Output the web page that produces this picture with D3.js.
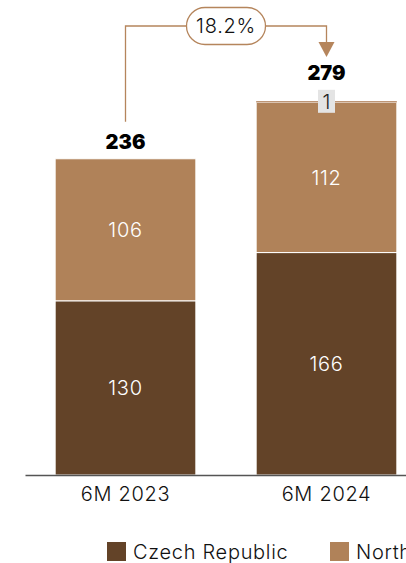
<!DOCTYPE html>
<html><head><meta charset="utf-8">
<script src="https://cdn.jsdelivr.net/npm/d3@7"></script>
<style>
html,body{margin:0;padding:0;background:#fff;overflow:hidden;}
text{font-family:"Inter","Lato",sans-serif;}
</style></head>
<body>
<svg id="chart" width="406" height="563"></svg>
<script>
const categories = ["6M 2023", "6M 2024"];
const seriesNames = ["Czech Republic", "North Macedonia", "Other"];
const czechValues = [130, 166];
const northValues = [106, 112];
const otherValues = [0, 1];
const totals = [236, 279];
const growthLabel = "18.2%";
const colors = ["#634328", "#b08259", "#b38560"];

const svg = d3.select("#chart");
const FONT = "Inter, Lato, sans-serif";
const FW = 350;
const LS = 0.7;

const rows = categories.map((c, i) => ({
  cat: c,
  "Czech Republic": czechValues[i],
  "North Macedonia": northValues[i],
  "Other": otherValues[i]
}));
const stack = d3.stack().keys(seriesNames)(rows);

const x = d3.scaleBand().domain(categories).range([25, 427]).paddingInner(0.3).paddingOuter(0.15);
const y = d3.scaleLinear().domain([0, 300]).range([475, 73]);
const color = d3.scaleOrdinal().domain(seriesNames).range(colors);

// bars
const layer = svg.append("g").selectAll("g").data(stack).join("g")
  .attr("fill", d => color(d.key));
layer.selectAll("rect").data(d => d.map(v => ({v, key: d.key})))
  .join("rect")
  .filter(d => d.v[1] - d.v[0] > 0)
  .attr("x", d => x(d.v.data.cat))
  .attr("y", d => y(d.v[1]))
  .attr("width", x.bandwidth())
  .attr("height", d => y(d.v[0]) - y(d.v[1]))
  .attr("stroke", "#fff").attr("stroke-width", d => d.key === "Other" ? 0 : 1);

// segment labels
stack.forEach(s => {
  s.forEach(v => {
    const val = v[1] - v[0];
    if (val <= 0) return;
    const cx = x(v.data.cat) + x.bandwidth() / 2;
    const cy = (y(v[0]) + y(v[1])) / 2;
    if (s.key === "Other") {
      svg.append("rect").attr("x", cx - 8.5).attr("y", cy - 12).attr("width", 17).attr("height", 23)
        .attr("fill", "#e4e4e4");
      svg.append("text").attr("x", cx).attr("y", cy).attr("dy", "0.36em")
        .attr("text-anchor", "middle").attr("font-size", 20).attr("font-weight", FW)
        .attr("fill", "#222").text(val);
    } else {
      svg.append("text").attr("x", cx).attr("y", cy).attr("dy", "0.36em")
        .attr("text-anchor", "middle").attr("font-size", 20).attr("font-weight", FW)
        .attr("letter-spacing", LS).attr("fill", "#fff").text(val);
    }
  });
});

// totals
categories.forEach((c, i) => {
  const cx = x(c) + x.bandwidth() / 2;
  const topY = y(totals[i]);
  const off = otherValues[i] > 0 ? 21 : 10;
  svg.append("text").attr("x", cx).attr("y", topY - off)
    .attr("text-anchor", "middle").attr("font-size", 20).attr("font-weight", 900)
    .attr("font-family", "Lato, sans-serif")
    .attr("fill", "#000").text(totals[i]);
});

// axis
const axis = svg.append("g").attr("transform", `translate(0,${y(0)})`)
  .call(d3.axisBottom(x).tickSize(0).tickPadding(12));
axis.select(".domain").attr("stroke", "#555").attr("stroke-width", 1.6);
axis.selectAll("text").attr("font-size", 20).attr("font-weight", FW).attr("fill", "#111")
  .attr("letter-spacing", LS).attr("font-family", FONT);

// connector
const x1 = x(categories[0]) + x.bandwidth() / 2;
const x2 = x(categories[1]) + x.bandwidth() / 2;
const lineY = 26;
const cc = "#b5855c";
svg.append("path")
  .attr("d", `M${x1},${y(totals[0]) - 37}V${lineY}H${x2}V42`)
  .attr("fill", "none").attr("stroke", cc).attr("stroke-width", 1.3);
svg.append("path")
  .attr("d", `M${x2 - 8},42L${x2 + 8},42L${x2},57Z`).attr("fill", cc);
const mx = (x1 + x2) / 2;
svg.append("rect").attr("x", mx - 39.5).attr("y", 7.5).attr("width", 79).attr("height", 37)
  .attr("rx", 18.5).attr("fill", "#fff").attr("stroke", cc).attr("stroke-width", 1.3);
svg.append("text").attr("x", mx).attr("y", 26).attr("dy", "0.36em")
  .attr("text-anchor", "middle").attr("font-size", 20).attr("font-weight", FW)
  .attr("letter-spacing", LS).attr("fill", "#111").text(growthLabel);

// legend
const legX = [107, 330, 530];
const leg = svg.append("g");
seriesNames.forEach((n, i) => {
  leg.append("rect").attr("x", legX[i]).attr("y", 542).attr("width", 19).attr("height", 19)
    .attr("fill", color(n));
  leg.append("text").attr("x", legX[i] + 26).attr("y", 551.5).attr("dy", "0.36em")
    .attr("font-size", 20).attr("font-weight", FW).attr("letter-spacing", LS)
    .attr("fill", "#111").text(n);
});
</script>
</body></html>
